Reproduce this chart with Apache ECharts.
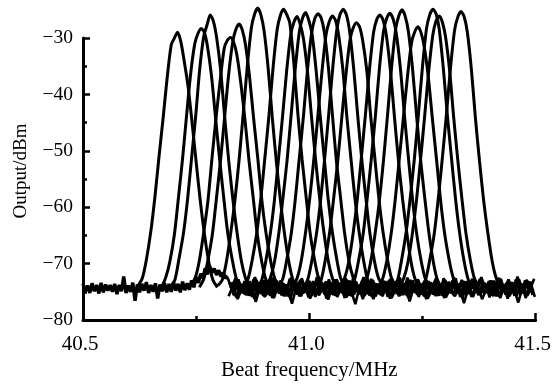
<!DOCTYPE html>
<html><head><meta charset="utf-8">
<script src="https://cdn.jsdelivr.net/npm/echarts@6/dist/echarts.min.js"></script>
<style>html,body{margin:0;padding:0;background:#fff}#c{width:554px;height:388px}</style>
</head><body><div id="c"></div>
<script>
// ---- data ----
const xTickValues = [40.5, 41.0, 41.5];
const yTickValues = [-80, -70, -60, -50, -40, -30];

// peak centre frequencies (MHz)
const peakCenters = [40.709, 40.761, 40.781, 40.826, 40.845, 40.886, 40.943, 40.973, 40.992, 41.019,
                     41.051, 41.075, 41.104, 41.156, 41.178, 41.205, 41.240, 41.273, 41.287, 41.335];
// sampling offsets (MHz) from each centre
const peakOffsets = [-0.088,-0.078,-0.069,-0.059,-0.050,-0.041,-0.032,-0.023,-0.014,-0.007,0,
                      0.007,0.014,0.023,0.032,0.041,0.050,0.059,0.069,0.078,0.088];
// output levels (dBm) of each peak at those offsets
const peakA = [-74.0,-72.6,-69.3,-64.2,-58.1,-51.0,-44.2,-37.0,-31.2,-30.0,-29.0,-30.6,-33.8,-38.5,-45.0,-52.0,-58.8,-64.6,-69.8,-72.9,-74.2];
const peakB = [-74.3,-72.4,-69.6,-64.8,-58.2,-51.4,-43.6,-36.2,-31.0,-29.2,-28.3,-29.0,-31.5,-36.8,-44.3,-51.6,-58.4,-64.7,-69.4,-72.7,-73.9];
const peakC = [-74.1,-72.9,-69.2,-64.6,-58.6,-51.2,-43.8,-35.4,-29.6,-27.7,-25.9,-27.0,-29.8,-35.6,-44.0,-51.8,-58.5,-64.3,-69.6,-72.6,-74.3];
const peakD = [-73.8,-72.5,-69.5,-64.3,-58.9,-51.3,-44.1,-37.6,-31.8,-30.4,-29.9,-30.8,-33.0,-38.2,-44.6,-51.9,-58.3,-64.8,-69.7,-72.8,-74.0];
const peakE = [-74.2,-72.7,-69.4,-64.7,-58.3,-51.6,-43.9,-36.3,-30.6,-28.4,-27.5,-28.6,-31.2,-36.9,-44.3,-51.2,-58.7,-64.4,-69.3,-72.5,-74.1];
const peakF = [-73.9,-72.8,-69.6,-64.2,-58.5,-51.5,-43.4,-35.0,-28.2,-25.8,-24.7,-25.9,-28.7,-35.3,-43.9,-51.8,-58.6,-64.6,-69.8,-72.9,-74.2];
const peakG = [-74.1,-72.6,-69.3,-64.5,-58.4,-51.1,-43.6,-35.2,-28.5,-26.0,-24.9,-25.8,-27.4,-34.6,-43.7,-51.5,-58.2,-64.7,-69.5,-72.7,-73.8];
const peakH = [-74.0,-72.9,-69.5,-64.6,-58.7,-51.4,-43.8,-35.8,-29.4,-27.2,-26.2,-27.6,-30.1,-36.0,-44.1,-51.7,-58.5,-64.3,-69.6,-72.6,-74.3];
const peakI = [-74.2,-72.5,-69.7,-64.4,-58.2,-51.6,-43.5,-35.4,-28.9,-26.5,-25.5,-26.9,-29.3,-35.7,-43.8,-51.3,-58.8,-64.5,-69.4,-72.8,-74.0];
const peakJ = [-73.9,-72.8,-69.4,-64.7,-58.6,-51.2,-43.9,-35.6,-29.2,-26.6,-25.7,-26.4,-28.9,-35.1,-43.6,-51.9,-58.3,-64.6,-69.7,-72.5,-74.1];
const peakK = [-74.1,-72.6,-69.6,-64.3,-58.4,-51.5,-43.7,-35.9,-29.4,-27.1,-26.1,-26.9,-29.6,-35.5,-44.0,-51.4,-58.6,-64.4,-69.5,-72.9,-74.2];
const peakL = [-74.3,-72.7,-69.3,-64.6,-58.7,-51.3,-43.4,-35.1,-28.4,-25.8,-24.9,-25.9,-28.8,-35.4,-43.8,-51.6,-58.4,-64.7,-69.6,-72.6,-73.9];
const peakM = [-74.0,-72.9,-69.5,-64.4,-58.3,-51.7,-43.9,-36.4,-30.3,-28.2,-27.3,-28.0,-30.5,-35.8,-44.2,-51.5,-58.7,-64.5,-69.4,-72.7,-74.1];
const peakN = [-73.8,-72.5,-69.7,-64.5,-58.6,-51.2,-43.6,-35.5,-29.0,-26.7,-25.9,-26.8,-29.4,-35.6,-43.9,-51.8,-58.5,-64.3,-69.8,-72.8,-74.2];
const peakO = [-74.2,-72.8,-69.4,-64.7,-58.4,-51.4,-43.8,-35.3,-28.8,-26.5,-25.6,-26.6,-29.1,-35.2,-43.5,-51.3,-58.6,-64.6,-69.5,-72.6,-74.0];
const peakP = [-74.0,-72.6,-69.5,-64.3,-58.7,-51.6,-43.5,-35.0,-28.3,-26.0,-25.0,-26.2,-28.9,-35.4,-43.8,-51.7,-58.3,-64.4,-69.7,-72.9,-74.3];
const peakQ = [-74.1,-72.7,-69.6,-64.6,-58.5,-51.3,-44.0,-36.7,-30.8,-28.9,-28.0,-29.1,-31.6,-37.0,-44.4,-51.5,-58.8,-64.7,-69.4,-72.5,-73.9];
const peakR = [-73.9,-72.9,-69.3,-64.4,-58.3,-51.5,-43.6,-35.1,-28.3,-25.9,-24.9,-25.7,-28.4,-35.3,-43.7,-51.2,-58.5,-64.5,-69.6,-72.8,-74.1];
const peakS = [-74.2,-72.5,-69.7,-64.5,-58.6,-51.4,-43.7,-35.7,-29.4,-27.0,-26.1,-27.2,-29.8,-35.8,-44.1,-51.6,-58.4,-64.6,-69.5,-72.7,-74.0];
const peakT = [-74.0,-72.8,-69.4,-64.7,-58.4,-51.2,-43.5,-35.2,-28.6,-26.3,-25.3,-26.2,-28.9,-35.5,-44.2,-51.8,-58.7,-64.3,-69.6,-72.6,-74.2];
const peakLevels = [peakA,peakB,peakC,peakD,peakE,peakF,peakG,peakH,peakI,peakJ,
                    peakK,peakL,peakM,peakN,peakO,peakP,peakQ,peakR,peakS,peakT];

// noise floor, single trace 40.500–40.820 MHz, 0.005 MHz spacing
const noiseLeftStart = 40.5, noiseLeftStep = 0.005;
const noiseLeft = [-73.6,-75.0,-73.9,-75.2,-73.5,-74.9,-73.8,-75.3,-73.4,-75.1,
 -73.7,-74.8,-73.8,-75.0,-73.6,-75.4,-73.8,-74.9,-72.3,-75.2,
 -73.9,-75.0,-73.4,-76.6,-73.7,-75.1,-73.6,-74.8,-73.3,-75.2,
 -73.8,-75.0,-73.5,-76.2,-73.7,-74.9,-73.4,-75.1,-73.6,-75.0,
 -73.3,-74.8,-73.6,-75.1,-73.2,-74.7,-73.5,-74.6,-73.0,-74.2,
 -72.4,-73.4,-71.8,-72.6,-70.8,-71.9,-70.5,-71.6,-70.9,-72.0,
 -71.2,-72.3,-71.6,-72.6,-72.2];

// overlapping noise traces 40.82–41.50 MHz, 0.01 MHz spacing
const bandStarts = [40.82, 40.8217, 40.8233, 40.825, 40.8267, 40.8283];
const bandStep = 0.01;
const band1 = [-72.6,-74.8,-72.9,-75.1,-73.2,-74.5,-72.4,-74.9,-73.0,-75.2,
 -72.7,-74.3,-73.4,-74.9,-72.5,-75.0,-72.9,-74.6,-73.1,-74.8,
 -72.3,-74.7,-73.3,-75.1,-72.8,-74.4,-72.6,-74.9,-73.5,-74.6,
 -72.4,-75.0,-72.9,-74.7,-73.2,-74.5,-72.7,-74.8,-72.5,-75.2,
 -73.0,-74.6,-72.8,-74.9,-73.3,-74.4,-72.6,-75.0,-72.9,-74.7,
 -72.5,-74.8,-73.1,-74.5,-72.7,-75.1,-72.4,-74.6,-73.0,-74.9,
 -72.6,-74.7,-72.8,-75.0,-72.3,-74.8,-72.9,-74.5];
const band2 = [-75.8,-73.9,-76.3,-74.2,-75.6,-73.8,-76.8,-74.0,-75.9,-74.4,
 -76.1,-73.7,-75.7,-74.3,-77.1,-74.1,-75.8,-73.9,-76.2,-74.5,
 -75.6,-74.0,-76.4,-73.8,-75.9,-74.2,-76.0,-74.6,-77.2,-73.9,
 -75.7,-74.3,-76.3,-74.0,-75.8,-73.7,-76.1,-74.4,-75.6,-74.1,
 -76.7,-73.9,-75.9,-74.2,-76.2,-74.5,-75.7,-73.8,-76.0,-74.3,
 -75.8,-74.0,-77.0,-74.2,-75.9,-73.9,-76.3,-74.4,-75.6,-74.1,
 -76.1,-73.8,-75.8,-74.3,-76.9,-74.0,-75.7,-74.2];
const band3 = [-73.4,-75.6,-72.8,-75.2,-73.6,-75.9,-72.9,-75.4,-73.3,-75.7,
 -72.7,-75.3,-73.5,-75.8,-73.0,-75.5,-72.6,-75.1,-73.7,-75.9,
 -73.1,-75.4,-72.8,-75.6,-73.4,-75.2,-72.9,-75.8,-73.2,-75.5,
 -72.6,-75.7,-73.5,-75.3,-73.0,-75.9,-72.7,-75.4,-73.3,-75.6,
 -72.9,-75.2,-73.6,-75.8,-73.1,-75.5,-72.8,-75.7,-73.4,-75.3,
 -72.6,-75.9,-73.2,-75.4,-72.9,-75.6,-73.5,-75.2,-73.0,-75.8,
 -72.7,-75.5,-73.3,-75.7,-72.8,-75.3,-73.1,-75.6];
const band4 = [-74.1,-74.8,-73.5,-75.3,-74.0,-73.6,-75.1,-74.4,-73.8,-75.4,
 -74.2,-73.4,-74.9,-75.2,-73.7,-74.5,-75.0,-73.9,-74.3,-75.5,
 -73.6,-74.7,-75.1,-73.8,-74.2,-75.3,-73.5,-74.6,-74.9,-73.7,
 -75.2,-74.1,-73.9,-75.4,-74.3,-73.6,-74.8,-75.0,-73.8,-74.4,
 -75.3,-73.7,-74.6,-74.9,-73.5,-75.1,-74.2,-73.9,-75.4,-74.0,
 -73.6,-74.8,-75.2,-73.8,-74.5,-75.0,-73.7,-74.3,-75.3,-73.9,
 -74.6,-75.1,-73.5,-74.7,-75.2,-73.8,-74.4,-74.9];
const band5 = [-74.9,-72.6,-75.4,-73.1,-75.7,-72.8,-74.6,-73.4,-75.5,-72.5,
 -75.1,-73.0,-75.8,-72.7,-74.8,-73.3,-75.3,-72.9,-75.6,-72.4,
 -74.7,-73.2,-75.5,-72.8,-75.0,-73.5,-75.7,-72.6,-74.9,-73.1,
 -75.4,-72.7,-75.8,-73.3,-74.6,-72.9,-75.2,-73.0,-75.6,-72.5,
 -74.8,-73.4,-75.5,-72.8,-75.1,-73.2,-75.7,-72.6,-74.7,-73.0,
 -75.3,-72.9,-75.6,-73.3,-74.9,-72.7,-75.4,-73.1,-75.8,-72.5,
 -74.6,-73.4,-75.2,-72.8,-75.5,-73.0,-74.8,-72.7];
const band6 = [-73.3,-76.0,-73.6,-75.5,-73.1,-76.2,-73.8,-75.7,-73.4,-76.1,
 -73.0,-75.6,-73.7,-76.3,-73.2,-75.8,-73.5,-76.0,-73.1,-75.4,
 -73.9,-76.2,-73.3,-75.7,-73.6,-76.1,-73.0,-75.5,-73.8,-76.3,
 -73.2,-75.9,-73.5,-75.6,-73.1,-76.2,-73.7,-75.8,-73.4,-76.0,
 -73.0,-75.5,-73.6,-76.3,-73.3,-75.7,-73.8,-76.1,-73.2,-75.6,
 -73.5,-76.2,-73.1,-75.9,-73.7,-75.5,-73.4,-76.0,-73.0,-75.8,
 -73.6,-76.2,-73.3,-75.7,-73.5,-76.1,-73.2,-75.9];
const bandTraces = [band1, band2, band3, band4, band5, band6];

// ---- build chart ----
const FONT = '"Liberation Serif", "Times New Roman", serif';
const series = [];
series.push({
  type: 'line', symbol: 'none', clip: false, animation: false,
  lineStyle: { color: '#000', width: 3.4 },
  data: noiseLeft.map((v, i) => [noiseLeftStart + i * noiseLeftStep, v])
});
bandTraces.forEach((tr, k) => {
  series.push({
    type: 'line', symbol: 'none', clip: false, animation: false,
    lineStyle: { color: '#000', width: 2.6 },
    data: tr.map((v, i) => [bandStarts[k] + i * bandStep, v])
  });
});
peakLevels.forEach((lv, k) => {
  series.push({
    type: 'line', symbol: 'none', clip: false, animation: false, smooth: 0.25,
    lineStyle: { color: '#000', width: 3 },
    data: lv.map((v, i) => [peakCenters[k] + peakOffsets[i], v])
  });
});

const axisCommon = {
  axisLine: { show: true, lineStyle: { color: '#000', width: 3 } },
  axisTick: { show: true, inside: true, length: 7, lineStyle: { color: '#000', width: 2.5 } },
  minorTick: { show: true, splitNumber: 2, length: 4, lineStyle: { color: '#000', width: 2.5 } },
  splitLine: { show: false },
  minorSplitLine: { show: false },
  nameLocation: 'middle'
};

const chart = echarts.init(document.getElementById('c'), null, { renderer: 'canvas' });
chart.setOption({
  animation: false,
  backgroundColor: '#fff',
  grid: { left: 83, right: 15, top: 38, bottom: 68 },
  xAxis: Object.assign({}, axisCommon, {
    type: 'value', min: xTickValues[0], max: xTickValues[xTickValues.length - 1], interval: 0.5,
    name: 'Beat frequency/MHz', nameGap: 35,
    nameTextStyle: { fontFamily: FONT, fontSize: 21, color: '#000' },
    axisLabel: { fontFamily: FONT, fontSize: 21, color: '#000', margin: 14, padding: [0, 6, 0, 0],
      formatter: v => v.toFixed(1) }
  }),
  yAxis: Object.assign({}, axisCommon, {
    type: 'value', min: yTickValues[0], max: yTickValues[yTickValues.length - 1], interval: 10,
    name: 'Output/dBm', nameGap: 52, nameRotate: 90,
    nameTextStyle: { fontFamily: FONT, fontSize: 19, color: '#000', padding: [0, 0, 0, 16] },
    axisLabel: { fontFamily: FONT, fontSize: 19.5, color: '#000', margin: 10,
      formatter: v => (v < 0 ? '\u2212' : '') + Math.abs(v) }
  }),
  series
});
</script>
</body></html>
